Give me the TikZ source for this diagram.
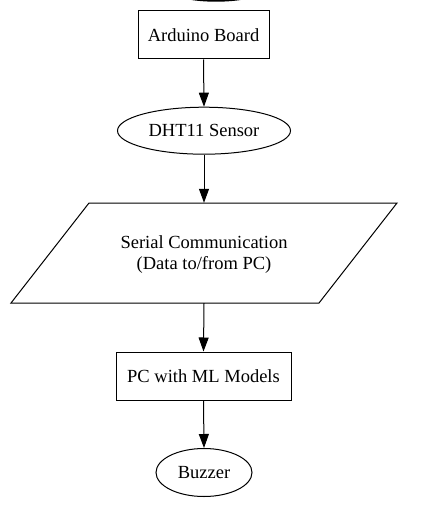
\documentclass[tikz,border=0pt]{standalone}
\usepackage{fontspec}
\setmainfont{Liberation Serif}
\usetikzlibrary{shapes.geometric,arrows.meta}
\begin{document}
\begin{tikzpicture}[x=1pt,y=-1pt,
  every node/.style={font=\fontsize{18.5}{21}\selectfont, inner sep=0pt, align=center},
  boxnode/.style={draw, line width=1pt, rectangle},
  ovalnode/.style={draw, line width=1pt, ellipse},
  flow/.style={line width=1pt, -{Triangle[length=14pt,width=10pt]}}]
\useasboundingbox (0,0) rectangle (444,511);
\clip (0,0) rectangle (444,511);
\fill[black] (216,-9.3) ellipse [x radius=46, y radius=11];
\node[boxnode, minimum width=131pt, minimum height=48pt] (ard) at (203.5,35) {Arduino Board};
\node[ovalnode, minimum width=173pt, minimum height=47pt] (dht) at (204,130.7) {DHT11 Sensor};
\node[minimum width=230pt, minimum height=100pt] (serial) at (204,253) {};
\node (serialtext) at (204,255) {Serial Communication\\(Data to/from PC)};
\draw[line width=1pt, line join=miter] (89,203) -- (397,203) -- (319,303) -- (11,303) -- cycle;
\node[boxnode, minimum width=175pt, minimum height=48pt] (pc) at (203.5,376) {PC with ML Models};
\node[ovalnode, minimum width=96pt, minimum height=48pt] (buz) at (204,472.5) {Buzzer};
\draw[flow] (ard.south) -- (dht.north);
\draw[flow] (dht.south) -- (serial.north);
\draw[flow] (serial.south) -- (pc.north);
\draw[flow] (pc.south) -- (buz.north);
\end{tikzpicture}
\end{document}
